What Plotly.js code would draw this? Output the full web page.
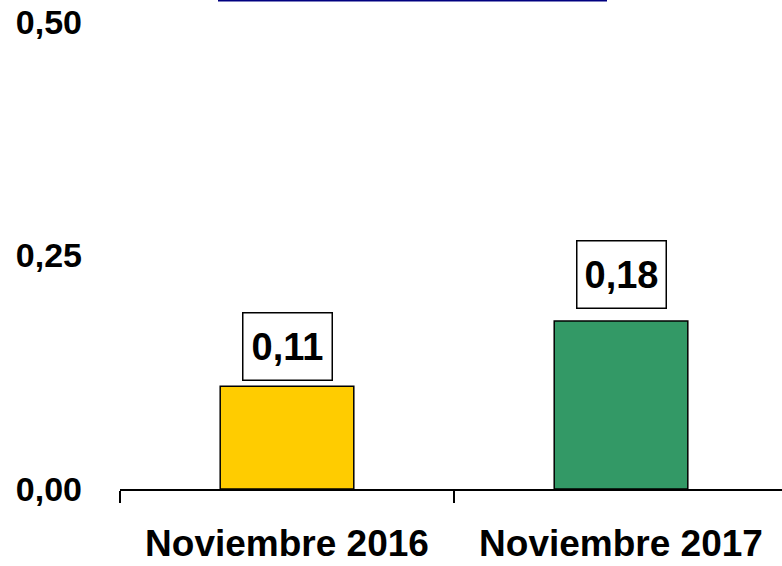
<!DOCTYPE html>
<html>
<head>
<meta charset="utf-8">
<script src="https://cdn.plot.ly/plotly-3.0.1.min.js"></script>
<style>html,body{margin:0;padding:0;background:#fff;}#chart{width:782px;height:566px;}</style>
</head>
<body>
<div id="chart"></div>
<script>
const categories = ["Noviembre 2016", "Noviembre 2017"];
const values = [0.11, 0.18];
const valueLabels = ["0,11", "0,18"];
const barColors = ["#FFCC00", "#339966"];
const yTickVals = [0, 0.25, 0.5];
const yTickText = ["0,00", "0,25", "0,50"];

const FONT = "Arial, 'Liberation Sans', sans-serif";
const labelShift = [5, 12];

const trace = {
  type: "bar",
  x: categories,
  y: values,
  width: 0.4,
  marker: {color: barColors, line: {color: "#000", width: 1.5}},
  hoverinfo: "none"
};

const annotations = categories.map((c, i) => ({
  x: c, y: values[i], xref: "x", yref: "y",
  text: "<b>" + valueLabels[i] + "</b>",
  showarrow: false, yanchor: "bottom", yshift: labelShift[i],
  font: {family: FONT, size: 38, color: "#000"},
  bordercolor: "#000", borderwidth: 1.5, borderpad: 2,
  width: 84, height: 62, bgcolor: "#fff"
}));

const layout = {
  width: 782, height: 566,
  margin: {l: 120, r: 0, t: 22, b: 77},
  paper_bgcolor: "#fff", plot_bgcolor: "#fff",
  showlegend: false,
  bargap: 0.6,
  xaxis: {
    type: "category",
    range: [-0.5, 1.482],
    tickson: "boundaries",
    ticks: "outside", ticklen: 12, tickwidth: 2, tickcolor: "#000",
    showline: true, linecolor: "#000", linewidth: 2,
    showgrid: false, zeroline: false,
    tickfont: {family: FONT, size: 37, color: "#000", weight: "bold"},
    ticklabelstandoff: 21,
    fixedrange: true
  },
  yaxis: {
    range: [0, 0.5],
    tickvals: yTickVals,
    ticktext: yTickText.map(t => "<b>" + t + "</b>"),
    ticks: "", showline: false, showgrid: false, zeroline: false,
    tickfont: {family: FONT, size: 34, color: "#000", weight: "bold"},
    ticklabelstandoff: 37,
    fixedrange: true
  },
  annotations: annotations,
  shapes: [{
    type: "line", xref: "paper", yref: "paper",
    x0: (218 - 120) / 662, x1: (607 - 120) / 662,
    y0: (489 - 0.5) / 467, y1: (489 - 0.5) / 467,
    line: {color: "#000080", width: 2}
  }]
};

Plotly.newPlot("chart", [trace], layout, {displayModeBar: false, staticPlot: true});
</script>
</body>
</html>
